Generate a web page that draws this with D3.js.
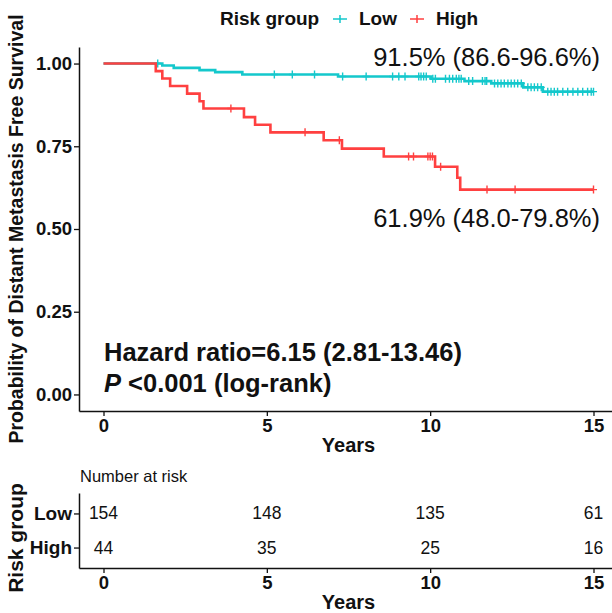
<!DOCTYPE html>
<html>
<head>
<meta charset="utf-8">
<script src="https://cdn.jsdelivr.net/npm/d3@7"></script>
<style>
  body { margin: 0; background: #fff; }
  svg text { font-family: "Liberation Sans", Arial, sans-serif; }
</style>
</head>
<body>
<svg id="chart" width="612" height="613"></svg>
<script>
// groups and colours
const groups = ["Low", "High"];
const groupColors = ["#14C8CC", "#FF4040"];

// step curves (time in years, survival)
const lowTimes = [0, 1.8, 2.15, 2.94, 3.42, 4.25, 7.18, 10.02, 11.05, 11.87, 12.85, 13.45];
const lowSurv  = [1, 0.994, 0.987, 0.980, 0.974, 0.967, 0.961, 0.954, 0.947, 0.940, 0.928, 0.915];
const lowCensor = [1.66, 5.23, 5.78, 6.46, 7.32, 8.04, 8.85, 9.04, 9.23, 9.65, 9.72, 9.80, 9.88,
  10.08, 10.16, 10.47, 10.59, 10.69, 10.80, 10.88, 10.95, 11.18, 11.30, 11.60, 11.68, 11.73,
  11.97, 12.07, 12.17, 12.27, 12.38, 12.48, 12.58, 12.68, 12.79, 12.99, 13.09, 13.19, 13.29, 13.40,
  13.60, 13.70, 13.80, 13.90, 14.06, 14.21, 14.37, 14.52, 14.67, 14.82, 14.93, 15.0];

const highTimes = [0, 1.6, 1.8, 2.04, 2.56, 2.94, 3.06, 4.3, 4.64, 5.11, 6.74, 7.3, 8.58, 10.15, 10.83, 10.92];
const highSurv  = [1, 0.977, 0.955, 0.932, 0.909, 0.886, 0.864, 0.838, 0.815, 0.792, 0.768, 0.743, 0.719, 0.688, 0.655, 0.619];
const highCensor = [3.9, 6.17, 7.22, 9.34, 9.49, 9.93, 10.0, 10.07, 10.32, 11.74, 12.6, 15.0];

const endTime = 15.0;

// axis ticks
const yearTicks = [0, 5, 10, 15];
const survTicks = [0, 0.25, 0.5, 0.75, 1];

// number at risk table
const riskTimes = [0, 5, 10, 15];
const riskLow = [154, 148, 135, 61];
const riskHigh = [44, 35, 25, 16];

// labels
const survLabels = ["91.5% (86.6-96.6%)", "61.9% (48.0-79.8%)"];
const hrText = "Hazard ratio=6.15 (2.81-13.46)";

const svg = d3.select("#chart");
const ink = "#111";

const x = d3.scaleLinear().domain([-0.75, 15.75]).range([79, 618]);
const y = d3.scaleLinear().domain([-0.05, 1.05]).range([411, 47]);

// main axes
let yAxis = svg.append("g")
    .attr("transform", "translate(79,0)")
    .call(d3.axisLeft(y).tickValues(survTicks).tickFormat(d3.format(".2f")).tickSize(5).tickSizeOuter(0));
let xAxis = svg.append("g")
    .attr("transform", "translate(0,411)")
    .call(d3.axisBottom(x).tickValues(yearTicks).tickSize(5).tickSizeOuter(0));

[yAxis, xAxis].forEach(a => {
    a.select(".domain").attr("stroke", ink).attr("stroke-width", 1.5);
    a.selectAll(".tick line").attr("stroke", ink).attr("stroke-width", 1.3);
    a.selectAll(".tick text").attr("fill", ink)
        .style("font-size", "18.5px").style("font-weight", "bold");
});
yAxis.selectAll(".tick text").attr("x", -7);
xAxis.selectAll(".tick text").attr("y", 8);

svg.append("text").attr("x", x(7.5)).attr("y", 452).attr("text-anchor", "middle")
    .style("font-size", "20px").style("font-weight", "bold").attr("fill", ink).text("Years");

svg.append("text").attr("transform", "translate(23,229) rotate(-90)")
    .attr("text-anchor", "middle").style("font-size", "19.5px").style("font-weight", "bold").attr("fill", ink)
    .text("Probability of Distant Metastasis Free Survival");

// curves
const curves = [
    { times: lowTimes, surv: lowSurv, censor: lowCensor },
    { times: highTimes, surv: highSurv, censor: highCensor }
];

const line = d3.line().curve(d3.curveStepAfter).x(d => x(d[0])).y(d => y(d[1]));

function survAt(c, t) {
    let s = 1;
    for (let i = 0; i < c.times.length; i++) {
        if (c.times[i] <= t) s = c.surv[i];
    }
    return s;
}

curves.forEach((c, i) => {
    let pts = c.times.map((t, j) => [t, c.surv[j]]);
    pts.push([endTime, c.surv[c.surv.length - 1]]);
    svg.append("path").datum(pts).attr("d", line)
        .attr("fill", "none").attr("stroke", groupColors[i]).attr("stroke-width", 2.6);

    svg.append("g").selectAll("path")
        .data(c.censor)
        .enter()
        .append("path")
            .attr("d", t => {
                let cx = x(t), cy = y(survAt(c, t));
                return "M" + cx + "," + (cy - 4) + "V" + (cy + 4) + "M" + (cx - 3.5) + "," + cy + "H" + (cx + 3.5);
            })
            .attr("stroke", groupColors[i]).attr("stroke-width", 1.4).attr("fill", "none");
});

// annotations
svg.append("text").attr("x", 600).attr("y", 66).attr("text-anchor", "end")
    .style("font-size", "25.5px").attr("fill", ink).text(survLabels[0]);
svg.append("text").attr("x", 600).attr("y", 227).attr("text-anchor", "end")
    .style("font-size", "25.5px").attr("fill", ink).text(survLabels[1]);

svg.append("text").attr("x", 104).attr("y", 361)
    .style("font-size", "25.5px").style("font-weight", "bold").attr("fill", ink).text(hrText);
let pText = svg.append("text").attr("x", 104).attr("y", 392)
    .style("font-size", "25.5px").style("font-weight", "bold").attr("fill", ink);
pText.append("tspan").style("font-style", "italic").text("P");
pText.append("tspan").text(" <0.001 (log-rank)");

// legend
let legend = svg.append("g");
legend.append("text").attr("x", 220).attr("y", 25)
    .style("font-size", "19px").style("font-weight", "bold").attr("fill", ink).text("Risk group");
const legendKeyX = [340, 417];
groups.forEach((g, i) => {
    let kx = legendKeyX[i];
    legend.append("path")
        .attr("d", "M" + (kx - 7) + ",19H" + (kx + 7) + "M" + kx + ",15V23")
        .attr("stroke", groupColors[i]).attr("stroke-width", 1.5).attr("fill", "none");
    legend.append("text").attr("x", kx + 19).attr("y", 25)
        .style("font-size", "19px").style("font-weight", "bold").attr("fill", ink).text(g);
});

// number at risk table
const ty = d3.scaleLinear().domain([0.4, 2.6]).range([568, 493]);

svg.append("text").attr("x", 80).attr("y", 482)
    .style("font-size", "16.5px").attr("fill", ink).text("Number at risk");

let tyAxis = svg.append("g")
    .attr("transform", "translate(79,0)")
    .call(d3.axisLeft(ty).tickValues([2, 1]).tickFormat((d, i) => groups[i]).tickSize(5).tickSizeOuter(0));
let txAxis = svg.append("g")
    .attr("transform", "translate(0,568)")
    .call(d3.axisBottom(x).tickValues(yearTicks).tickSize(5).tickSizeOuter(0));

[tyAxis, txAxis].forEach(a => {
    a.select(".domain").attr("stroke", ink).attr("stroke-width", 1.5);
    a.selectAll(".tick line").attr("stroke", ink).attr("stroke-width", 1.3);
    a.selectAll(".tick text").attr("fill", ink)
        .style("font-size", "18.5px").style("font-weight", "bold");
});
tyAxis.selectAll(".tick text").attr("x", -7).style("font-size", "19px");
txAxis.selectAll(".tick text").attr("y", 8);

svg.append("text").attr("x", x(7.5)).attr("y", 609).attr("text-anchor", "middle")
    .style("font-size", "20px").style("font-weight", "bold").attr("fill", ink).text("Years");

svg.append("text").attr("transform", "translate(23,538) rotate(-90)")
    .attr("text-anchor", "middle").style("font-size", "21px").style("font-weight", "bold").attr("fill", ink)
    .text("Risk group");

const riskRows = [riskLow, riskHigh];
riskRows.forEach((row, i) => {
    svg.append("g").selectAll("text")
        .data(row)
        .enter()
        .append("text")
            .attr("x", (d, j) => x(riskTimes[j]))
            .attr("y", ty(2 - i) + 6)
            .attr("text-anchor", "middle")
            .style("font-size", "17.5px")
            .attr("fill", ink)
            .text(d => d);
});
</script>
</body>
</html>
